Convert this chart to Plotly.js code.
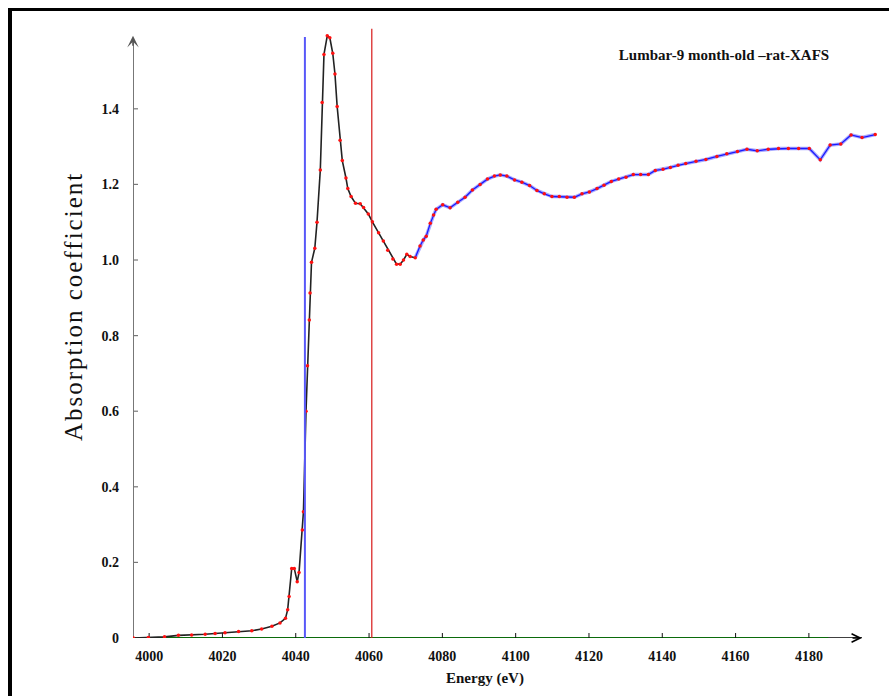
<!DOCTYPE html>
<html><head><meta charset="utf-8">
<script src="https://cdn.plot.ly/plotly-3.0.1.min.js"></script>
<style>
html,body{margin:0;padding:0;background:#fff;}
#wrap{position:relative;width:889px;height:696px;overflow:hidden;}
#frame{position:absolute;left:8px;top:8px;right:-10px;bottom:-10px;border-left:4px solid #000;border-top:3px solid #000;pointer-events:none;}
</style>
</head><body>
<div id="wrap"><div id="chart" style="width:889px;height:696px;"></div><div id="frame"></div></div>
<script>
// ---- data ----
const energy = [3995.7,3999.8,4004.2,4008.0,4011.6,4015.3,4018.0,4020.7,4024.4,4028.0,4030.7,4033.5,4035.7,4037.2,4037.8,4038.2,4038.9,4039.6,4040.4,4040.9,4041.8,4042.1,4042.8,4043.2,4043.7,4043.9,4044.3,4045.2,4045.8,4046.7,4047.2,4047.7,4048.6,4049.3,4050.1,4050.7,4051.3,4052.1,4052.7,4053.7,4054.2,4055.1,4056.3,4057.6,4058.5,4059.8,4060.9,4062.6,4063.9,4065.1,4066.5,4067.5,4068.5,4069.4,4070.3,4071.2,4072.6,4073.9,4074.8,4075.6,4076.7,4077.6,4078.3,4080.1,4082.1,4084.2,4086.2,4088.2,4090.3,4092.3,4094.2,4095.8,4097.6,4099.7,4101.7,4103.8,4105.8,4107.8,4109.9,4111.9,4114.0,4116.0,4118.1,4120.1,4122.2,4124.1,4126.1,4128.1,4130.1,4132.1,4134.1,4136.2,4138.1,4140.2,4142.2,4144.3,4146.4,4149.2,4151.9,4154.9,4157.6,4160.5,4163.1,4165.9,4168.9,4171.7,4174.4,4177.2,4180.1,4183.1,4185.8,4188.7,4191.5,4194.5,4198.1];
const absorption = [0.000,0.001,0.003,0.007,0.008,0.010,0.012,0.014,0.017,0.019,0.024,0.031,0.040,0.052,0.075,0.110,0.184,0.184,0.149,0.173,0.286,0.334,0.600,0.720,0.841,0.913,0.994,1.031,1.100,1.238,1.417,1.544,1.593,1.588,1.547,1.492,1.406,1.317,1.263,1.217,1.189,1.168,1.150,1.149,1.139,1.122,1.101,1.072,1.050,1.026,1.003,0.989,0.989,1.000,1.015,1.009,1.006,1.037,1.053,1.063,1.097,1.119,1.134,1.146,1.138,1.153,1.166,1.185,1.200,1.214,1.222,1.225,1.222,1.212,1.206,1.197,1.184,1.175,1.168,1.168,1.166,1.166,1.175,1.180,1.189,1.198,1.208,1.214,1.219,1.226,1.226,1.226,1.237,1.240,1.245,1.251,1.255,1.261,1.266,1.274,1.281,1.287,1.293,1.289,1.293,1.295,1.295,1.295,1.295,1.265,1.304,1.307,1.331,1.324,1.332];
const colourSplitEnergy = 4072.6;   // black curve before, blue curve after
const xTickVals = [4000,4020,4040,4060,4080,4100,4120,4140,4160,4180];
const xTickText = ['4000','4020','4040','4060','4080','4100','4120','4140','4160','4180'];
const yTickVals = [0,0.2,0.4,0.6,0.8,1.0,1.2,1.4];
const yTickText = ['0','0.2','0.4','0.6','0.8','1.0','1.2','1.4'];
const blueLineEnergy = 4042.5;
const redLineEnergy = 4060.75;
const titleText = 'Lumbar-9 month-old \u2013rat-XAFS';
const xTitle = 'Energy (eV)';
const yTitle = 'Absorption coefficient';

// ---- geometry ----
const xMin = 3995.6, xMax = 4199.4, yMax = 1.6138;
const xArrowEnd = 4194.5, greenEnd = 4185.3, yArrowTop = 1.593, blueTop = 1.59, redTop = 1.612;

const idxSplit = energy.findIndex(e => e >= colourSplitEnergy);
const eBlack = energy.slice(0, idxSplit + 1), aBlack = absorption.slice(0, idxSplit + 1);
const eBlue = energy.slice(idxSplit), aBlue = absorption.slice(idxSplit);

const traces = [
  {x: eBlack, y: aBlack, mode: 'lines', line: {color: '#222', width: 1.6}, hoverinfo: 'skip', showlegend: false},
  {x: eBlue, y: aBlue, mode: 'lines', line: {color: '#a9a9ff', width: 3.5}, hoverinfo: 'skip', showlegend: false},
  {x: eBlue, y: aBlue, mode: 'lines', line: {color: '#1a1aff', width: 1.3}, hoverinfo: 'skip', showlegend: false},
  {x: energy, y: absorption, mode: 'markers', marker: {color: '#ff1010', size: 3.5}, showlegend: false}
];

const serif = 'Liberation Serif, Times New Roman, serif';
const shapes = [
  {type: 'line', xref: 'x', yref: 'y', x0: xMin, x1: xArrowEnd, y0: 0, y1: 0, line: {color: '#000', width: 1.3}, layer: 'below'},
  {type: 'line', xref: 'x', yref: 'y', x0: xMin, x1: greenEnd, y0: 0, y1: 0, line: {color: '#0b6b0b', width: 2}, layer: 'below'},
  {type: 'line', xref: 'x', yref: 'y', x0: xMin, x1: xMin, y0: 0, y1: yArrowTop - 0.01, line: {color: '#777', width: 2}, layer: 'below'},
  {type: 'line', xref: 'x', yref: 'y', x0: blueLineEnergy, x1: blueLineEnergy, y0: 0, y1: blueTop, line: {color: '#5858f8', width: 2}, layer: 'above'},
  {type: 'line', xref: 'x', yref: 'y', x0: redLineEnergy, x1: redLineEnergy, y0: 0, y1: redTop, line: {color: '#d81818', width: 1.2}, layer: 'above'}
];
xTickVals.forEach(v => shapes.push({type: 'line', xref: 'x', yref: 'y', ysizemode: 'pixel', yanchor: 0, x0: v, x1: v, y0: -5, y1: 5, line: {color: '#111', width: 1}, layer: 'below'}));
yTickVals.forEach(v => shapes.push({type: 'line', xref: 'x', yref: 'y', xsizemode: 'pixel', xanchor: xMin, x0: -5, x1: 5, y0: v, y1: v, line: {color: '#777', width: 1.2}, layer: 'below'}));

const annotations = [
  {xref: 'x', yref: 'y', axref: 'x', ayref: 'y', x: xMin, y: yArrowTop, ax: xMin, ay: yArrowTop - 0.03, text: '', showarrow: true, arrowhead: 3, arrowsize: 1.2, arrowwidth: 1.6, arrowcolor: '#555', standoff: 0},
  {xref: 'x', yref: 'y', axref: 'x', ayref: 'y', x: xArrowEnd, y: 0, ax: xArrowEnd - 3, ay: 0, text: '', showarrow: true, arrowhead: 5, arrowsize: 1.3, arrowwidth: 1.3, arrowcolor: '#000', standoff: 0},
  {xref: 'paper', yref: 'paper', x: (485 - 133) / 747, y: (638 - 678) / 610, text: xTitle, showarrow: false, xanchor: 'center', yanchor: 'middle', font: {family: serif, size: 15, color: '#111', weight: 'bold'}},
  {xref: 'paper', yref: 'paper', x: (73 - 133) / 747, y: (638 - 307) / 610, text: yTitle, textangle: -90, showarrow: false, xanchor: 'center', yanchor: 'middle', font: {family: serif, size: 25, color: '#111'}},
];

const layout = {
  width: 889, height: 696,
  margin: {l: 133, r: 9, t: 28, b: 58, pad: 0},
  paper_bgcolor: '#fff', plot_bgcolor: '#fff',
  title: {text: titleText, x: (724 - 133) / 747, y: 1 - 55 / 696, xref: 'paper', yref: 'container', xanchor: 'center', yanchor: 'middle', font: {family: serif, size: 15, color: '#111', weight: 'bold'}},
  xaxis: {range: [xMin, xMax], showgrid: false, zeroline: false, showline: false, ticks: '', tickvals: xTickVals, ticktext: xTickText, ticklabelstandoff: 8, tickfont: {family: serif, size: 14, color: '#111', weight: 'bold'}, fixedrange: true},
  yaxis: {range: [0, yMax], showgrid: false, zeroline: false, showline: false, ticks: '', tickvals: yTickVals, ticktext: yTickText, ticklabelstandoff: 13, tickfont: {family: serif, size: 14, color: '#111', weight: 'bold'}, fixedrange: true},
  shapes: shapes,
  annotations: annotations,
  showlegend: false
};

Plotly.newPlot('chart', traces, layout, {staticPlot: true, displayModeBar: false}).then(() => {
  document.querySelectorAll('.annotation-text').forEach(t => {
    if (t.textContent === yTitle) t.style.letterSpacing = '2px';
  });
});
</script>
</body></html>
